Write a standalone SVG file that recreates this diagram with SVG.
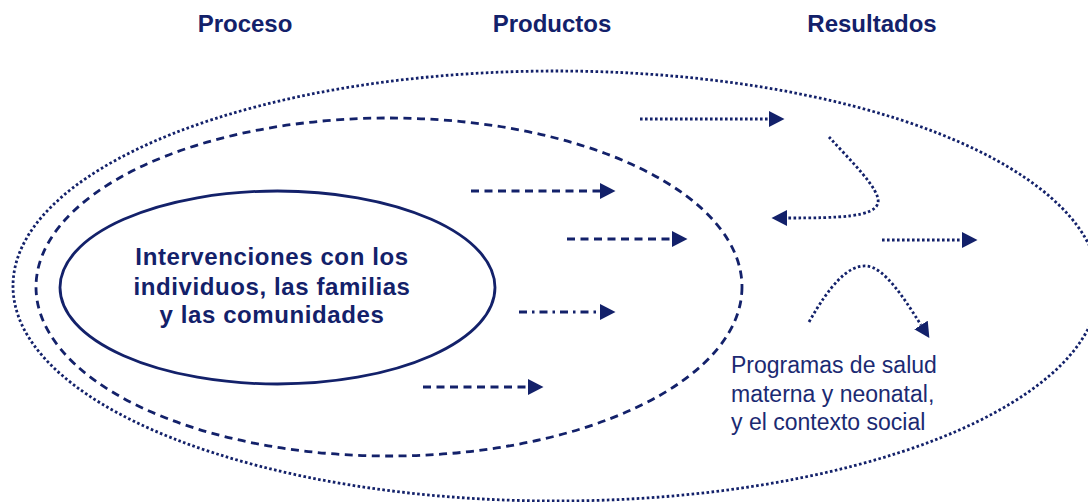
<svg xmlns="http://www.w3.org/2000/svg" width="1088" height="502" viewBox="0 0 1088 502">
<style>
.h{font-family:"Liberation Sans",Arial,sans-serif;font-weight:bold;font-size:24px;fill:#13216a;text-anchor:middle}
.b{font-family:"Liberation Sans",Arial,sans-serif;font-weight:bold;font-size:24px;fill:#13216a;text-anchor:middle;letter-spacing:0.6px}
.r{font-family:"Liberation Sans",Arial,sans-serif;font-size:23px;fill:#1b2a72}
.dot{fill:none;stroke:#13216a;stroke-width:2.8;stroke-dasharray:2.6 2.4}
.dash{fill:none;stroke:#13216a;stroke-width:2.8;stroke-dasharray:8 5.5}
.dd{fill:none;stroke:#13216a;stroke-width:2.8;stroke-dasharray:8 5 2.5 5}
.sol{fill:none;stroke:#13216a;stroke-width:2.8}
.ar{marker-end:url(#ah)}
</style>
<defs>
<marker id="ah" markerUnits="userSpaceOnUse" markerWidth="16" markerHeight="17" refX="0" refY="8" orient="auto" viewBox="0 0 16 16">
<path d="M0,0 L15.5,8 L0,16 z" fill="#13216a"/>
</marker>
</defs>
<g id="headers">
<text class="h" x="245" y="32">Proceso</text>
<text class="h" x="552" y="32">Productos</text>
<text class="h" x="872" y="32">Resultados</text>
</g>
<g id="outer">
<ellipse class="dot" cx="556" cy="286" rx="543" ry="215"/>
<text class="r" x="731" y="373">Programas de salud</text>
<text class="r" x="731" y="402">materna y neonatal,</text>
<text class="r" x="731" y="430">y el contexto social</text>
</g>
<g id="middle">
<ellipse class="dash" cx="389" cy="287" rx="353" ry="169"/>
</g>
<g id="inner">
<ellipse class="sol" cx="277.5" cy="287.5" rx="217.5" ry="96.5"/>
<text class="b" x="272" y="265">Intervenciones con los</text>
<text class="b" x="272" y="295">individuos, las familias</text>
<text class="b" x="272" y="323">y las comunidades</text>
</g>
<g id="connectors">
<path class="dash ar" d="M471,191 H600"/>
<path class="dash ar" d="M567,239 H672"/>
<path class="dd ar" d="M519,312 H600"/>
<path class="dash ar" d="M423,387 H528"/>
<path class="dot ar" d="M640,119 H769"/>
<path class="dot ar" d="M829,137 C850,160 881,190 878,203 C874,217 840,218 787,218"/>
<path class="dot ar" d="M882,240 H962"/>
<path class="dot ar" d="M809,322 C830,285 848,265 866,266 C885,267 905,300 921,325"/>
</g>
</svg>
